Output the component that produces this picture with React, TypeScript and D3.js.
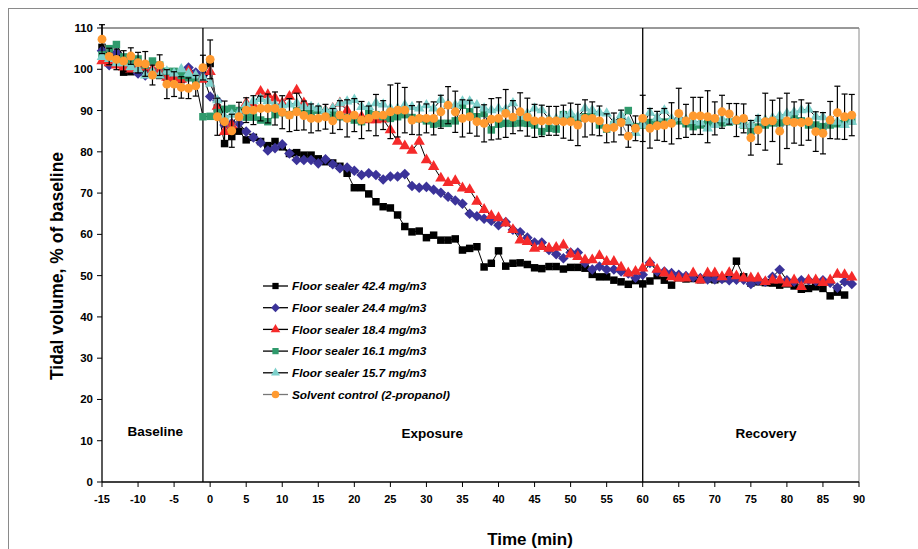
import React from 'react';
import * as d3 from 'd3';

// minutes run from -15 in 1 min steps
const START_MIN = -15;

const floor424 = [
  105.3, 104, 103.5, 99.3, 99.4, 100.2, 100, 99.5, 98.5, 98,
  97.8, 97.5, 98, 98.5, 98.5, 101.4, 90.6, 82, 83.7, 85,
  82.9, 83.5, 82.5, 81.5, 82.5, 81.2, 79.6, 79.8, 79.2, 79.2,
  78.3, 77.6, 77.3, 76.5, 74.8, 71.3, 71.3, 69.8, 67.9, 66.7,
  66.4, 64.7, 61.9, 60.6, 60.8, 59.2, 59.8, 58.6, 58.6, 58.9,
  56.2, 56.6, 57, 52.1, 53, 56, 52.3, 53, 53.1, 52.7,
  51.9, 51.7, 52.2, 52.2, 51.6, 52, 52, 51.8, 50.3, 49.7,
  49.7, 48.9, 48.5, 47.9, 48.8, 48, 48.7, 50, 48.9, 47.7,
  49.5, 49.2, 49.3, 49, 49.2, 49, 49.3, 49.5, 53.5, 49.7,
  48.2, 48.5, 48.3, 48.2, 47.7, 48, 47.5, 46.7, 46.9, 47.3,
  46.9, 45.1, 46, 45.3,
];

const floor244 = [
  104.5, 101, 104, 101.5, 100.5, 99, 98.5, 99.5, 100, 99,
  98.5, 99, 100.4, 99.2, 98.5, 93.4, 92.4, 86.5, 86.9, 86.9,
  84.9, 83.5, 82.2, 80.3, 80.9, 81.8, 79.6, 78, 78, 78,
  77.2, 78.2, 77, 76, 76.2, 75.4, 74.4, 74.8, 74.4, 73.3,
  74, 74, 74.6, 71.7, 71.3, 71.5, 70.8, 70.1, 69.1, 68.2,
  67.4, 65, 64.4, 63.8, 63.3, 62.2, 63, 61.1, 60.5, 59.2,
  58, 58, 56.2, 55.2, 54.2, 55.6, 55.6, 53.1, 51.5, 52.2,
  51.5, 51.5, 51, 50.5, 49.5, 50.2, 53.1, 51, 51, 50.6,
  50.2, 49.9, 49.6, 49.4, 49.1, 49.1, 49.2, 48.9, 49, 49,
  48, 48.8, 48.5, 49.7, 51.4, 48.9, 48.5, 48.9, 48.9, 48.7,
  48.9, 48.3, 47.1, 48.5, 48,
];

const floor184 = [
  102, 101.5, 101, 100.5, 100, 100.5, 100.5, 100, 99.5, 98,
  98, 97.5, 99.5, 98, 97.5, 99.4, 91, 84.9, 86.5, 89.5,
  91.8, 91.3, 94.6, 93.8, 93, 91.8, 93.4, 94.9, 91.8, 90.5,
  90, 90, 90.5, 91.8, 90, 88.1, 88.5, 87.7, 87.7, 87.9,
  85.3, 82.5, 81.4, 80.3, 82.5, 78, 76.4, 73.6, 72.5, 73,
  71.2, 70.8, 68, 66, 64.5, 64, 62.7, 61.1, 58.6, 58.2,
  56.6, 57, 56.6, 56.8, 57.4, 55.2, 54.6, 53.8, 53.8, 54.8,
  53.4, 53.4, 52, 50.6, 51, 51.8, 53.1, 51.5, 50.6, 49.7,
  49.4, 49.4, 50.6, 48.9, 50.6, 50.6, 49.7, 50.7, 49.9, 49.4,
  49.4, 49.4, 48.5, 48.9, 48.9, 48.1, 48.9, 47.3, 48.9, 48.9,
  48.3, 48.9, 50.3, 50.2, 49.6,
];

const floor161 = [
  103.5, 105, 106, 103, 101.5, 102.5, 101, 102, 101, 99.5,
  99.5, 98.5, 98, 97, 88.5, 88.6, 89.5, 90.3, 90.5, 90,
  88.4, 88.4, 87.7, 87.3, 89, 89.5, 89, 90, 89.3, 89.5,
  90.1, 89.5, 89, 88.5, 88.3, 87.7, 87.3, 89.7, 89, 88.5,
  88.1, 88.5, 89, 88.3, 88, 87.5, 86.7, 86.9, 86.9, 87.5,
  91.3, 89.7, 88.5, 89.3, 85.3, 86.7, 86.9, 86.9, 87, 86.9,
  86.5, 84.9, 85.7, 85.5, 89, 88.5, 88, 88.5, 89.3, 86.5,
  85.5, 86.5, 87.5, 90, 86.1, 86.5, 87.1, 87, 87.2, 87.3,
  87.5, 86.8, 86.1, 86.5, 86.8, 86.9, 87, 87.2, 87.5, 86.5,
  85, 86, 86.5, 87, 87, 87.3, 88.9, 87.5, 86.5, 86.5,
  86.1, 86.5, 86.8, 87.1, 87.5,
];

const floor157 = [
  103, 102.5, 101.5, 101.5, 100.5, 100, 98.5, 99.5, 98.5, 99.5,
  99, 100, 99, 98.5, 98, 96.5, 92.5, 88.5, 89, 89.5,
  91.5, 92.3, 92.8, 92.3, 91.5, 91.3, 91.5, 91.8, 91, 90.9,
  90.5, 90, 90.5, 91.8, 92.2, 92.6, 90.9, 90.9, 91.8, 91.5,
  90.5, 90.5, 91.3, 90.9, 90.5, 91.3, 90.5, 92.6, 91.5, 91.3,
  92.2, 92.2, 91.3, 90.5, 90.1, 90.5, 90.3, 91.8, 88.5, 89.3,
  90.5, 90.1, 88, 88, 89, 89.3, 88.5, 90.5, 90.1, 89.5,
  89.3, 87.1, 88.9, 87.3, 84.6, 86.5, 89.5, 88.3, 90, 88,
  88.2, 87.8, 87.5, 87.1, 85.7, 86.5, 87.9, 87.3, 87.8, 86.5,
  86.5, 87.9, 87.7, 88.2, 88.7, 89.3, 89.6, 90.1, 90.3, 88.5,
  88.4, 87.7, 87.3, 86.5, 87.3,
];

const solvent = [
  107.3, 103.1, 102.4, 102, 103.2, 101.6, 101.3, 98.6, 101, 96.4,
  96.4, 95.6, 95.4, 96, 100.4, 102.4, 88.5, 87.3, 85.1, 88.5,
  90.1, 90.1, 90.5, 90.5, 90.5, 89.6, 88.9, 89.7, 88.8, 88.1,
  88.1, 88.5, 87.5, 88.9, 88.1, 88.9, 87.7, 88.1, 88.9, 88.9,
  89.7, 90.1, 90.1, 87.7, 88.1, 88.1, 88.1, 89.7, 91.3, 89.7,
  88.1, 88.5, 87.3, 86.9, 87.9, 88.1, 89.3, 88.4, 89.7, 88.4,
  87.5, 87.5, 87.5, 87.5, 87.3, 87.3, 86.5, 88.1, 88.1, 87.5,
  85.7, 85.9, 87.1, 83.8, 85.7, 88.1, 85.7, 86.3, 86.5, 86.9,
  89.3, 87.5, 88.7, 88.7, 88.5, 88.1, 89.7, 89.2, 87.7, 88.1,
  83.4, 85.3, 87.3, 87.5, 85, 87.5, 87.1, 87.1, 87.3, 84.9,
  84.5, 87.7, 89.5, 88.5, 88.9,
];

// error bar half-widths for the solvent control
const solventSD = [
  3.5, 2, 2.5, 2.5, 2, 2.5, 3, 2.4, 2.5, 3.5,
  3, 2.6, 2.5, 2.5, 3, 4.7, 4.5, 5, 4, 3.5,
  3, 3.5, 3, 3.5, 4, 4, 4, 4.5, 3.5, 3.5,
  3, 3, 3, 3.5, 4.5, 4, 4.5, 3, 5, 3.5,
  6.5, 6.5, 5.5, 3.5, 4, 3.5, 4, 4, 4.5, 5,
  4.5, 4, 3.5, 4.5, 5, 5, 5.8, 4, 4.6, 4.6,
  4, 3.8, 3.5, 3.5, 4, 4.5, 5, 4.5, 4, 3.6,
  3.5, 3.5, 3, 2.7, 3, 5.6, 4.8, 3.5, 4, 5,
  6.1, 4, 4.5, 4.5, 6.3, 4, 4, 2.5, 4, 3.5,
  4.2, 3.5, 6.9, 5, 8, 6.7, 5, 5.5, 4.5, 4.8,
  5, 4.5, 6.4, 5.5, 5,
];

const seriesNames = [
  'Floor sealer 42.4 mg/m3',
  'Floor sealer 24.4 mg/m3',
  'Floor sealer 18.4 mg/m3',
  'Floor sealer 16.1 mg/m3',
  'Floor sealer 15.7 mg/m3',
  'Solvent control (2-propanol)',
];

const xTicks = [-15, -10, -5, 0, 5, 10, 15, 20, 25, 30, 35, 40, 45, 50, 55, 60, 65, 70, 75, 80, 85, 90];
const yTicks = [0, 10, 20, 30, 40, 50, 60, 70, 80, 90, 100, 110];
const phaseBounds = [-1, 60];

const FONT = '"Liberation Sans", Arial, sans-serif';

const series = [
  { name: seriesNames[0], values: floor424, fill: '#000000', shape: 'square', size: 56, line: '#000' },
  { name: seriesNames[1], values: floor244, fill: '#3b3399', shape: 'diamond', size: 56, line: '#000' },
  { name: seriesNames[2], values: floor184, fill: '#f52a2a', shape: 'triangle', size: 56, line: '#000' },
  { name: seriesNames[3], values: floor161, fill: '#2f9a6c', shape: 'square', size: 56, line: '#000' },
  { name: seriesNames[4], values: floor157, fill: '#7dd0cb', shape: 'triangle', size: 50, line: '#000' },
  { name: seriesNames[5], values: solvent, fill: '#ff9a30', shape: 'circle', size: 62, line: '#777' },
];

function symbolPath(shape: string, size: number) {
  const type =
    shape === 'circle' ? d3.symbolCircle :
    shape === 'triangle' ? d3.symbolTriangle : d3.symbolSquare;
  return d3.symbol().type(type).size(size)() as string;
}

export default function App() {
  const left = 102, right = 859, top = 28, bottom = 482;

  const x = d3.scaleLinear().domain([-15, 90]).range([left, right]);
  const y = d3.scaleLinear().domain([0, 110]).range([bottom, top]);

  const line = d3
    .line<number>()
    .x((d, i) => x(START_MIN + i))
    .y(d => y(d));

  const marker = (s: any, cx: number, cy: number, key: any, scale = 1) => (
    <path
      key={key}
      d={symbolPath(s.shape, s.size * scale)}
      transform={`translate(${cx},${cy})${s.shape === 'diamond' ? ' rotate(45)' : ''}`}
      fill={s.fill}
    />
  );

  return (
    <svg
      width={918}
      height={549}
      style={{ position: 'absolute', left: 0, top: 0, background: '#fff' }}
      fontFamily={FONT}
    >
      {/* chart frame */}
      <rect x={8.5} y={8.5} width={1000} height={1000} fill="none" stroke="#8a8a8a" />
      {/* plot area */}
      <line x1={left} x2={right} y1={top} y2={top} stroke="#333" />
      <line x1={right} x2={right} y1={top} y2={bottom} stroke="#8a8a8a" />

      {/* phase separators */}
      {phaseBounds.map(b => (
        <line key={b} x1={x(b)} x2={x(b)} y1={top} y2={bottom} stroke="#000" strokeWidth={1.3} />
      ))}

      {/* axes */}
      <line x1={left} x2={left} y1={top - 4} y2={bottom} stroke="#000" strokeWidth={1.3} />
      <line x1={left} x2={right} y1={bottom} y2={bottom} stroke="#000" strokeWidth={1.3} />
      {yTicks.map(t => (
        <g key={t}>
          <line x1={left - 5} x2={left} y1={y(t)} y2={y(t)} stroke="#000" />
          <text x={left - 9} y={y(t)} dy="0.35em" textAnchor="end" fontSize={11.5} fontWeight="bold">
            {t}
          </text>
        </g>
      ))}
      {xTicks.map(t => (
        <g key={t}>
          <line x1={x(t)} x2={x(t)} y1={bottom} y2={bottom + 5} stroke="#000" />
          <text x={x(t)} y={bottom + 17} dy="0.35em" textAnchor="middle" fontSize={11} fontWeight="bold">
            {t}
          </text>
        </g>
      ))}

      <text
        transform={`translate(63,266) rotate(-90)`}
        textAnchor="middle"
        fontSize={17.5}
        fontWeight="bold"
      >
        Tidal volume, % of baseline
      </text>
      <text x={530} y={545} textAnchor="middle" fontSize={17} fontWeight="bold">
        Time (min)
      </text>

      <text x={x(-7.6)} y={436} textAnchor="middle" fontSize={13.5} fontWeight="bold">Baseline</text>
      <text x={x(30.8)} y={438} textAnchor="middle" fontSize={13.5} fontWeight="bold">Exposure</text>
      <text x={x(77.1)} y={438} textAnchor="middle" fontSize={13.5} fontWeight="bold">Recovery</text>

      {/* series */}
      {series.map((s, si) => (
        <g key={s.name}>
          <path d={line(s.values) as string} fill="none" stroke={s.line} strokeWidth={1} />
          {si === 5 &&
            solventSD.map((e, i) => {
              const cx = x(START_MIN + i);
              return (
                <g key={'e' + i} stroke="#000" strokeWidth={1.2}>
                  <line x1={cx} x2={cx} y1={y(s.values[i] + e)} y2={y(s.values[i] - e)} />
                  <line x1={cx - 3} x2={cx + 3} y1={y(s.values[i] + e)} y2={y(s.values[i] + e)} />
                  <line x1={cx - 3} x2={cx + 3} y1={y(s.values[i] - e)} y2={y(s.values[i] - e)} />
                </g>
              );
            })}
          {s.values.map((v, i) => marker(s, x(START_MIN + i), y(v), i))}
        </g>
      ))}

      {/* legend */}
      {series.map((s, i) => {
        const ly = 286 + i * 21.7;
        return (
          <g key={'lg' + i}>
            <line x1={263} x2={288} y1={ly} y2={ly} stroke={s.line} strokeWidth={1.3} />
            {marker(s, 275.5, ly, 'm', 0.7)}
            <text x={292} y={ly} dy="0.36em" fontSize={11.8} fontWeight="bold" fontStyle="italic">
              {s.name}
            </text>
          </g>
        );
      })}
    </svg>
  );
}
